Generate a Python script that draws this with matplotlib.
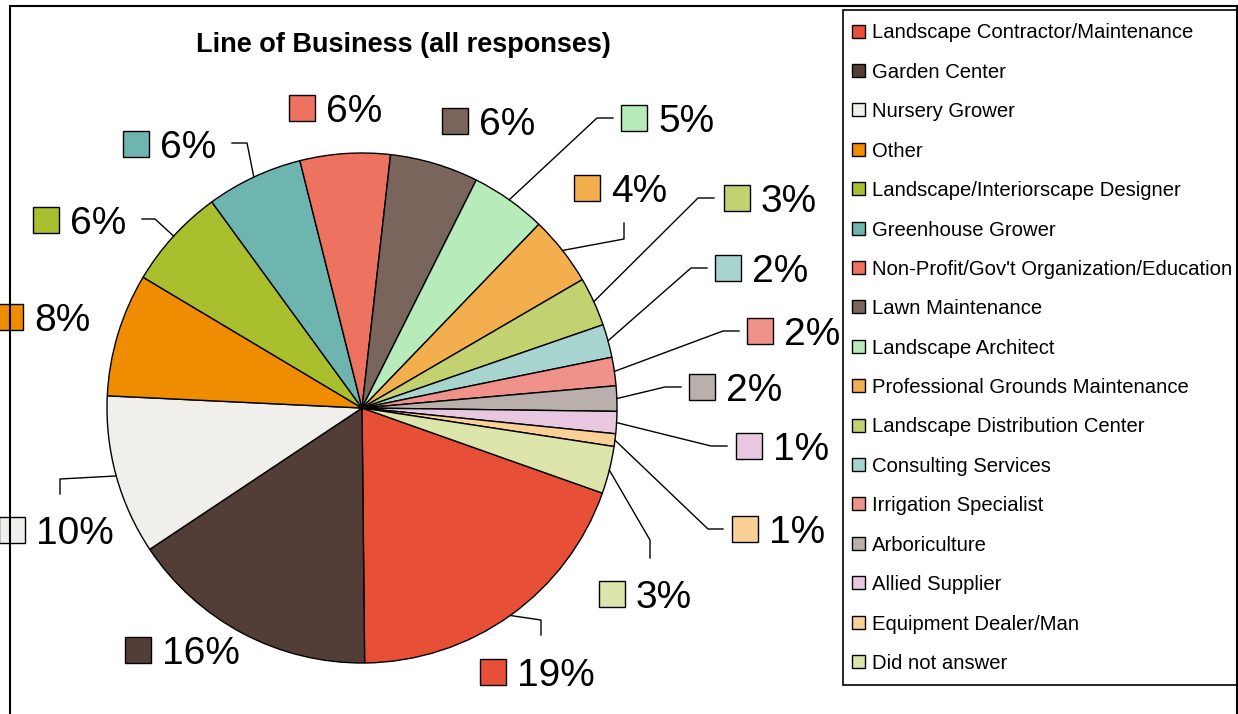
import numpy as np
import matplotlib
matplotlib.use('Agg')
import matplotlib.pyplot as plt
from matplotlib.patches import Rectangle

plt.rcParams['font.family'] = ['Liberation Sans', 'DejaVu Sans']

# data
categories = ['Landscape Contractor/Maintenance', 'Garden Center', 'Nursery Grower', 'Other',
              'Landscape/Interiorscape Designer', 'Greenhouse Grower',
              'Non-Profit/Gov\'t Organization/Education', 'Lawn Maintenance',
              'Landscape Architect', 'Professional Grounds Maintenance',
              'Landscape Distribution Center', 'Consulting Services', 'Irrigation Specialist',
              'Arboriculture', 'Allied Supplier', 'Equipment Dealer/Man', 'Did not answer']
shares = [19.4, 15.8, 10.1, 7.8, 6.4, 6.1, 5.7, 5.6, 4.8, 4.4, 3.1, 2.1, 1.8, 1.6, 1.4, 0.8, 3.0]
colors = ['#E84F37', '#523E36', '#F0EFEB', '#F08C00', '#AABF2E', '#6EB5B0', '#EE7260',
          '#79655C', '#B7EBBA', '#F3AF4D', '#C3D270', '#A8D4D0', '#F0928A', '#B9B0AC',
          '#E8C8E0', '#F9D095', '#DCE6AA']

# label layout (pixel coords): square centre, leader elbow + end (None = no leader)
label_pos = [(493, 672), (138, 650), (12, 530), (10, 317), (46, 220), (136, 144), (302, 108),
             (455, 121), (634, 118), (587, 188), (737, 198), (728, 268), (760, 331),
             (702, 387), (749, 446), (745, 529), (612, 594)]
leaders = [[(541, 620), (541, 635)], None, [(60, 479), (60, 494)], None,
           [(155, 219), (142, 219)], [(247, 143), (232, 143)], None, None,
           [(597, 118), (613, 118)], [(624, 239), (624, 223)], [(698, 198), (714, 198)],
           [(691, 268), (707, 268)], [(723, 331), (739, 331)], [(665, 387), (681, 387)],
           [(711, 446), (727, 446)], [(708, 529), (723, 529)], [(650, 540), (650, 558)]]

W, H = 1238, 714
fig = plt.figure(figsize=(W / 100, H / 100), dpi=100)
ax = fig.add_axes([0, 0, 1, 1])

cx, cy, r = 362, 408, 255
start = 19.5
wedges, _ = ax.pie(shares, colors=colors, startangle=start, counterclock=True,
                   center=(cx, cy), radius=r,
                   wedgeprops=dict(edgecolor='black', linewidth=1.0))
ax.set_xlim(0, W)
ax.set_ylim(H, 0)
ax.set_aspect('equal')
ax.axis('off')

total = sum(shares)
cum = 0
for i, v in enumerate(shares):
    mid = np.radians(start + (cum + v / 2) / total * 360)
    cum += v
    sx, sy = label_pos[i]
    if leaders[i] is not None:
        ex, ey = cx + r * np.cos(mid), cy + r * np.sin(mid)
        xs = [ex] + [p[0] for p in leaders[i]]
        ys = [ey] + [p[1] for p in leaders[i]]
        ax.plot(xs, ys, color='black', linewidth=1.0, zorder=3)
    ax.add_patch(Rectangle((sx - 13, sy - 13), 26, 26, facecolor=colors[i],
                           edgecolor='black', linewidth=1.0, zorder=4))
    ax.text(sx + 24, sy, f'{round(v / total * 100)}%', fontsize=28,
            va='center_baseline', ha='left', zorder=4)

ax.text(403, 45, 'Line of Business (all responses)', fontsize=19.5, fontweight='bold',
        ha='center', va='center')

# legend box
ax.add_patch(Rectangle((843, 10), 394, 675, facecolor='white', edgecolor='black',
                       linewidth=1.2, zorder=5))
for i, name in enumerate(categories):
    y = 31 + i * 39.4
    ax.add_patch(Rectangle((852, y - 6.5), 13, 13, facecolor=colors[i], edgecolor='black',
                           linewidth=1.0, zorder=6))
    ax.text(872, y, name, fontsize=14.6, va='center_baseline', ha='left', zorder=6)

# outer frame
ax.plot([10, 10, 1237, 1237], [714, 6, 6, 714], color='black', linewidth=1.5, zorder=10,
        solid_joinstyle='miter')

fig.savefig('out.png', dpi=100)
